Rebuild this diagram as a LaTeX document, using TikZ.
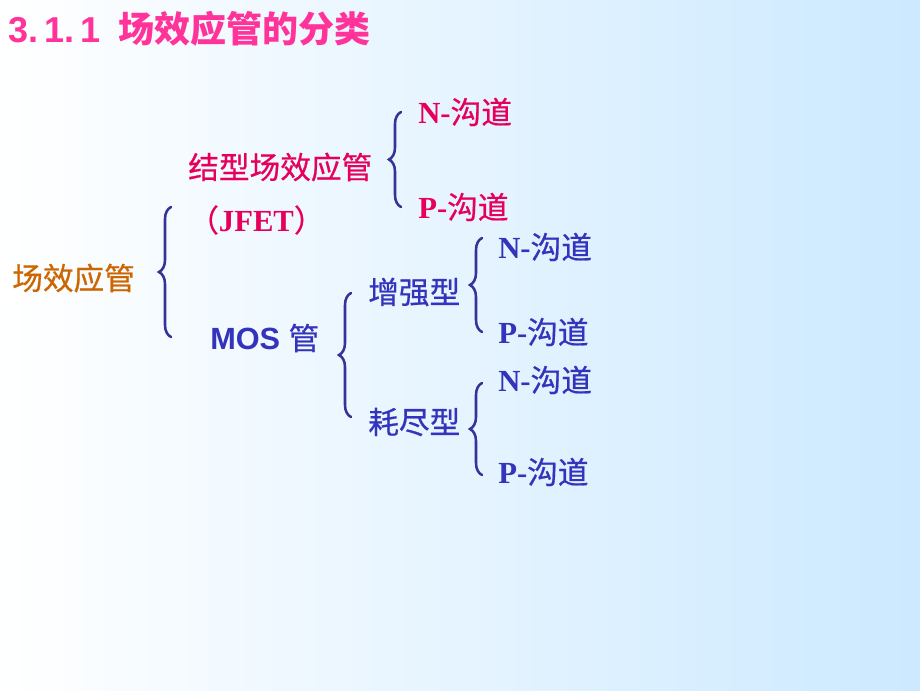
\documentclass[tikz,border=0pt]{standalone}
\usepackage{fontspec}
\setmainfont{Liberation Serif}
\setsansfont{Liberation Sans}
\newfontfamily\cjk[FakeBold=0.6]{Noto Sans CJK SC}
\newfontfamily\cjkt{Noto Sans CJK SC}
\usetikzlibrary{decorations.pathreplacing}
\definecolor{bgblue}{HTML}{CCE9FF}
\definecolor{titlepink}{HTML}{FF3399}
\definecolor{crim}{HTML}{E6005C}
\definecolor{fetorange}{HTML}{CC6600}
\definecolor{txtblue}{HTML}{3333BB}
\definecolor{braceblue}{HTML}{333399}
\begin{document}
\begin{tikzpicture}[x=0.75pt,y=-0.75pt,
  lbl/.style={anchor=west,inner sep=0pt,font=\fontsize{23}{26}\selectfont},
  chan/.style={lbl},
  brc/.style={draw=braceblue,line width=1.9pt,line cap=round,decorate,decoration={brace,amplitude=9pt}}]
\shade[left color=white,right color=bgblue] (0,0) rectangle (920,690);
\useasboundingbox (0,0) rectangle (920,690);
% title
\node[anchor=west,inner sep=0pt,text=titlepink,font=\fontsize{27}{30}\selectfont] (title) at (8,29)
  {\sffamily\bfseries 3.\,1.\,1\hspace{0.5em}\cjkt\bfseries 场效应管的分类};
% level 0
\node[lbl,text=fetorange] (fet) at (12,278) {\cjk 场效应管};
% JFET branch
\node[lbl,text=crim] (jfet) at (188,167) {\cjk 结型场效应管};
\node[lbl,text=crim] (jfetabbr) at (188,220) {{\cjk （}{\bfseries JFET}{\cjk ）}};
\node[chan,text=crim] (jn) at (418,112) {{\bfseries N-}{\cjk 沟道}};
\node[chan,text=crim] (jp) at (418,207) {{\bfseries P-}{\cjk 沟道}};
% MOS branch
\node[lbl,text=txtblue] (mos) at (210,338) {\sffamily\bfseries MOS {\mdseries\cjk 管}};
\node[lbl,text=txtblue] (enh) at (368,292) {\cjk 增强型};
\node[lbl,text=txtblue] (dep) at (368,422) {\cjk 耗尽型};
\node[chan,text=txtblue] (en) at (498,247) {{\bfseries N-}{\cjk 沟道}};
\node[chan,text=txtblue] (ep) at (498,332) {{\bfseries P-}{\cjk 沟道}};
\node[chan,text=txtblue] (dn) at (498,380) {{\bfseries N-}{\cjk 沟道}};
\node[chan,text=txtblue] (dp) at (498,472) {{\bfseries P-}{\cjk 沟道}};
% brace end points
\coordinate (b1t) at (401,112); \coordinate (b1b) at (401,207);
\coordinate (b0t) at (171,207); \coordinate (b0b) at (171,337);
\coordinate (b2t) at (351,293); \coordinate (b2b) at (351,417);
\coordinate (b3t) at (482,238); \coordinate (b3b) at (482,332);
\coordinate (b4t) at (482,383); \coordinate (b4b) at (482,475);
\draw[brc] (b0b) -- (b0t);
\draw[brc] (b1b) -- (b1t);
\draw[brc] (b2b) -- (b2t);
\draw[brc] (b3b) -- (b3t);
\draw[brc] (b4b) -- (b4t);
\end{tikzpicture}
\end{document}
